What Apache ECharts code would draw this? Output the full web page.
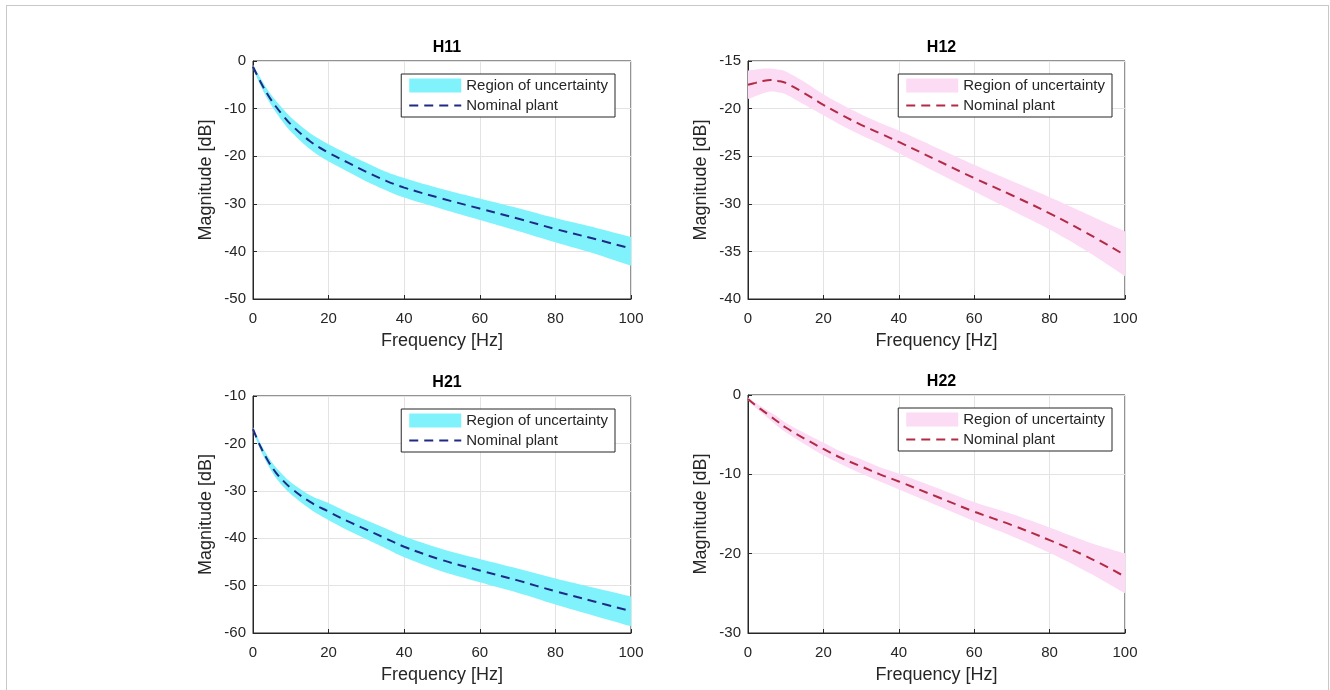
<!DOCTYPE html>
<html>
<head>
<meta charset="utf-8">
<script src="https://cdn.jsdelivr.net/npm/echarts@6/dist/echarts.min.js"></script>
<style>
  html, body { margin: 0; padding: 0; background: #fff; }
  #chart { width: 1330px; height: 690px; }
  #frame { position: absolute; left: 6px; top: 5px; width: 1321px; height: 700px;
           border: 1px solid #c8c8c8; pointer-events: none; }
</style>
</head>
<body>
<div id="chart"></div>
<div id="frame"></div>
<script>
// frequency samples [Hz]
const freq = [0, 2, 4, 6, 8, 10, 15, 20, 25, 30, 35, 40, 50, 60, 70, 80, 90, 100];

// H11
const h11Nom = [-1.2, -4.4, -7.2, -9.5, -11.5, -13.3, -16.8, -19.3, -21.3, -23.3, -25.1, -26.6, -28.9, -31.0, -33.1, -35.3, -37.3, -39.4];
const h11Up  = [-0.8, -3.6, -6.2, -8.3, -10.1, -11.8, -15.1, -17.5, -19.5, -21.4, -23.2, -24.6, -26.9, -28.9, -30.9, -33.0, -34.9, -37.0];
const h11Lo  = [-1.6, -5.2, -8.2, -10.7, -12.9, -14.8, -18.5, -21.1, -23.2, -25.3, -27.1, -28.7, -31.1, -33.4, -35.7, -38.1, -40.4, -43.0];
// H12
const h12Nom = [-17.5, -17.3, -17.1, -17.0, -17.1, -17.3, -18.4, -19.6, -20.7, -21.7, -22.6, -23.5, -25.4, -27.3, -29.1, -31.0, -33.1, -35.4];
const h12Up  = [-16.0, -15.9, -15.8, -15.8, -15.9, -16.1, -17.2, -18.5, -19.6, -20.6, -21.5, -22.3, -24.1, -25.9, -27.6, -29.3, -31.1, -32.9];
const h12Lo  = [-19.0, -18.7, -18.4, -18.2, -18.3, -18.5, -19.6, -20.7, -21.8, -22.8, -23.7, -24.7, -26.7, -28.7, -30.7, -32.7, -35.0, -37.6];
// H21
const h21Nom = [-17.0, -20.7, -23.7, -26.1, -27.9, -29.4, -32.3, -34.4, -36.4, -38.2, -40.0, -41.8, -44.6, -46.8, -48.9, -51.2, -53.3, -55.4];
const h21Up  = [-16.6, -20.0, -22.8, -25.0, -26.7, -28.2, -30.9, -32.6, -34.5, -36.2, -37.9, -39.6, -42.3, -44.4, -46.4, -48.5, -50.4, -52.3];
const h21Lo  = [-17.4, -21.4, -24.6, -27.2, -29.1, -30.7, -33.8, -36.2, -38.3, -40.2, -42.1, -44.0, -47.0, -49.3, -51.5, -54.0, -56.3, -58.6];
// H22
const h22Nom = [-0.5, -1.3, -2.0, -2.7, -3.4, -4.1, -5.5, -6.8, -8.0, -9.0, -10.0, -10.9, -12.8, -14.7, -16.4, -18.3, -20.4, -22.9];
const h22Up  = [-0.3, -1.0, -1.6, -2.2, -2.8, -3.5, -4.8, -6.0, -7.2, -8.1, -9.1, -9.9, -11.7, -13.5, -15.0, -16.7, -18.5, -20.0];
const h22Lo  = [-0.7, -1.6, -2.4, -3.2, -4.0, -4.7, -6.2, -7.6, -8.8, -9.9, -10.9, -11.9, -13.9, -15.9, -17.8, -19.9, -22.3, -25.0];

const panels = [
  { title: 'H11', nom: h11Nom, up: h11Up, lo: h11Lo, yMin: -50, yMax: 0, yStep: 10,
    band: '#80f2fc', line: '#1f2a85', legendInset: 16, grid: { left: 253, top: 61, width: 378, height: 238 } },
  { title: 'H12', nom: h12Nom, up: h12Up, lo: h12Lo, yMin: -40, yMax: -15, yStep: 5,
    band: '#fcdcf4', line: '#b32a44', legendInset: 13, grid: { left: 748, top: 61, width: 377, height: 238 } },
  { title: 'H21', nom: h21Nom, up: h21Up, lo: h21Lo, yMin: -60, yMax: -10, yStep: 10,
    band: '#80f2fc', line: '#1f2a85', legendInset: 16, grid: { left: 253, top: 396, width: 378, height: 237 } },
  { title: 'H22', nom: h22Nom, up: h22Up, lo: h22Lo, yMin: -30, yMax: 0, yStep: 10,
    band: '#fcdcf4', line: '#b32a44', legendInset: 13, grid: { left: 748, top: 395, width: 377, height: 238 } }
];

const FONT = 'Liberation Sans';
const AX = '#262626';

// rounds off the corners of an edge given in pixels (Catmull-Rom through the points)
function smoothEdge(pts) {
  const out = [];
  for (let k = 0; k < pts.length - 1; k++) {
    const p0 = pts[Math.max(k - 1, 0)], p1 = pts[k], p2 = pts[k + 1], p3 = pts[Math.min(k + 2, pts.length - 1)];
    for (let s = 0; s < 8; s++) {
      const t = s / 8, t2 = t * t, t3 = t2 * t;
      out.push([0, 1].map(d => 0.5 * (2 * p1[d] + (-p0[d] + p2[d]) * t +
        (2 * p0[d] - 5 * p1[d] + 4 * p2[d] - p3[d]) * t2 + (-p0[d] + 3 * p1[d] - 3 * p2[d] + p3[d]) * t3)));
    }
  }
  out.push(pts[pts.length - 1]);
  return out;
}

const chart = echarts.init(document.getElementById('chart'));

const grid = [], xAxis = [], yAxis = [], series = [], legend = [], title = [];

panels.forEach((p, i) => {
  grid.push(Object.assign({ show: true, borderColor: AX, borderWidth: 1, backgroundColor: 'transparent' }, p.grid));

  title.push({
    text: p.title, left: p.grid.left + p.grid.width / 2, top: p.grid.top - 26, textAlign: 'center',
    textStyle: { fontFamily: FONT, fontSize: 16, fontWeight: 'bold', color: '#000' }
  });

  xAxis.push({
    type: 'value', gridIndex: i, min: 0, max: 100, interval: 20,
    name: 'Frequency [Hz]', nameLocation: 'middle', nameGap: 33,
    nameTextStyle: { fontFamily: FONT, fontSize: 18, color: AX },
    axisLine: { show: true, onZero: false, lineStyle: { color: AX } },
    axisTick: { show: true, inside: true, length: 4, lineStyle: { color: AX } },
    axisLabel: { fontFamily: FONT, fontSize: 15, color: AX, margin: 12 },
    splitLine: { show: true, lineStyle: { color: '#e3e3e3' } }
  });
  yAxis.push({
    type: 'value', gridIndex: i, min: p.yMin, max: p.yMax, interval: p.yStep,
    name: 'Magnitude [dB]', nameLocation: 'middle', nameGap: 38, nameRotate: 90,
    nameTextStyle: { fontFamily: FONT, fontSize: 18, color: AX },
    axisLine: { show: true, onZero: false, lineStyle: { color: AX } },
    axisTick: { show: true, inside: true, length: 4, lineStyle: { color: AX } },
    axisLabel: { fontFamily: FONT, fontSize: 15, color: AX, margin: 7 },
    splitLine: { show: true, lineStyle: { color: '#e3e3e3' } }
  });

  const bandName = 'Region of uncertainty|' + p.title;
  const lineName = 'Nominal plant|' + p.title;

  series.push({
    type: 'custom', name: bandName, xAxisIndex: i, yAxisIndex: i, clip: true, silent: true,
    itemStyle: { color: p.band },
    data: [[0, p.nom[0]]],
    renderItem: (params, api) => {
      const top = smoothEdge(freq.map((f, k) => api.coord([f, p.up[k]])));
      const bot = smoothEdge(freq.map((f, k) => api.coord([f, p.lo[k]]))).reverse();
      return { type: 'polygon', shape: { points: top.concat(bot) }, style: { fill: p.band, stroke: null } };
    },
    z: 1
  });
  series.push({
    type: 'line', name: lineName, xAxisIndex: i, yAxisIndex: i,
    data: freq.map((f, k) => [f, p.nom[k]]),
    smooth: 0.4, symbol: 'none', silent: true,
    lineStyle: { color: p.line, width: 2, type: [9, 6] },
    itemStyle: { color: p.line },
    z: 3
  });

  legend.push({
    orient: 'vertical',
    right: 1330 - (p.grid.left + p.grid.width) + p.legendInset,
    top: p.grid.top + 13,
    padding: [4, 7, 4, 7],
    itemGap: 5, itemWidth: 52, itemHeight: 14,
    backgroundColor: '#fff', borderColor: AX, borderWidth: 1, borderRadius: 0,
    selectedMode: false,
    textStyle: { fontFamily: FONT, fontSize: 15, color: AX },
    formatter: n => n.split('|')[0],
    data: [
      { name: bandName, icon: 'rect', itemStyle: { color: p.band } },
      { name: lineName, itemStyle: { opacity: 0 } }
    ]
  });
});

chart.setOption({
  animation: false,
  backgroundColor: '#fff',
  title, grid, xAxis, yAxis, series, legend
});
</script>
</body>
</html>
